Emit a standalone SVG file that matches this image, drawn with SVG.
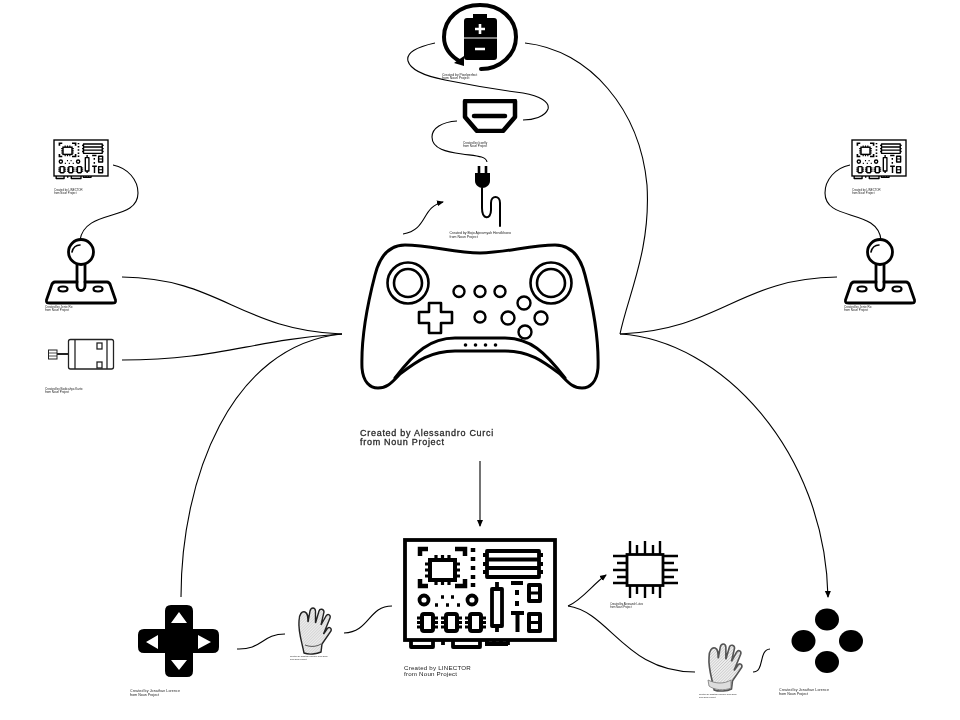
<svg xmlns="http://www.w3.org/2000/svg" xmlns:xlink="http://www.w3.org/1999/xlink" width="960" height="720" viewBox="0 0 960 720">
<style>
text{font-family:"Liberation Sans",Arial,sans-serif;fill:#222}
.cap{filter:url(#soft)}
.big{font-size:9px;letter-spacing:.72px;stroke:#333;stroke-width:.3px}
.c{fill:none;stroke:#000;stroke-width:1.1}
.ic{fill:none;stroke:#000;stroke-linecap:round;stroke-linejoin:round}
.k{fill:#000;stroke:none}
.w{fill:#fff;stroke:none}
.soft{filter:url(#soft)}
</style>
<defs>
<filter id="soft" x="-5%" y="-5%" width="110%" height="110%"><feGaussianBlur stdDeviation="0.35"/></filter>
<marker id="a" markerWidth="8" markerHeight="8" refX="6" refY="3.5" orient="auto" markerUnits="userSpaceOnUse"><path d="M0,0.5 L7,3.5 L0,6.500 Z" fill="#000"/></marker>
<pattern id="hatch" width="2" height="2" patternUnits="userSpaceOnUse" patternTransform="rotate(45)"><rect width="2" height="2" fill="#eee"/><line x1="0" y1="0" x2="0" y2="2" stroke="#999" stroke-width="0.6"/></pattern>
<g id="board-art" class="ic" stroke-width="3.8">
<rect x="0" y="0" width="150" height="100" stroke-linecap="square" stroke-linejoin="miter"/>
<path d="M6,100 V107 H28 V100 M48,100 V107 H75 V100 M38,100 V105 M82,100 V105 M89,100 V105 M96,100 V105 M103,100 V105 M80,104 H103" stroke-linecap="butt"/>
<path d="M15,16 V9 H23 M50,9 H60 V16 M15,39 V46 H23 M50,46 H60 V39" stroke-width="4.500" stroke-linecap="butt" stroke-linejoin="miter"/>
<rect x="25" y="20" width="25" height="20" stroke-width="4" stroke-linejoin="miter"/>
<path d="M20,24 H25 M20,30 H25 M20,36 H25 M50,24 H55 M50,30 H55 M50,36 H55 M31,15 V20 M37.500,15 V20 M44,15 V20 M31,40 V45 M37.500,40 V45 M44,40 V45" stroke-width="3.200" stroke-linecap="butt"/>
<path d="M68,8 V12 M68,17 V21 M68,26 V30 M68,35 V39 M68,43 V47" stroke-width="4.500" stroke-linecap="butt"/>
<rect x="82" y="11" width="52" height="26" stroke-linejoin="round"/>
<path d="M82,19.500 H134 M82,28 H134 M78,15 H82 M78,24 H82 M78,32 H82 M134,15 H138 M134,24 H138 M134,32 H138" stroke-linecap="butt"/>
<rect x="87" y="49" width="10" height="37" stroke-linejoin="round"/>
<path d="M92,42 V49 M92,86 V92" stroke-linecap="butt"/>
<path d="M106,43 H118 M112,50 V55 M112,61 V66 M106,73 H119 M112.500,73 V92" stroke-width="4" stroke-linecap="butt"/>
<rect x="124" y="45" width="11" height="16" stroke-width="4" stroke-linejoin="round"/>
<path d="M124,53 H135" stroke-width="3"/>
<rect x="124" y="74" width="11" height="17" stroke-width="4" stroke-linejoin="round"/>
<path d="M124,82.500 H135" stroke-width="3"/>
<circle cx="19" cy="60" r="4.500"/><circle cx="67" cy="60" r="4.500"/>
<path d="M36,57 H39 M46,57 H49 M30,65 H33 M41,65 H44 M52,65 H55" stroke-width="3.500" stroke-linecap="butt"/>
<rect x="17" y="74" width="11" height="17" rx="2" stroke-width="4"/><rect x="41" y="74" width="11" height="17" rx="2" stroke-width="4"/><rect x="65" y="74" width="11" height="17" rx="2" stroke-width="4"/>
<path d="M12,78 H17 M12,82.500 H17 M12,87 H17 M28,78 H33 M28,82.500 H33 M28,87 H33 M36,78 H41 M36,82.500 H41 M36,87 H41 M52,78 H57 M52,82.500 H57 M52,87 H57 M60,78 H65 M60,82.500 H65 M60,87 H65 M76,78 H81 M76,82.500 H81 M76,87 H81" stroke-width="3" stroke-linecap="butt"/>
</g>
<g id="joy-art">
<circle cx="81" cy="252" r="12.500" class="ic" stroke-width="2.800"/>
<path d="M72,252 C73,248 76,245 80,245" class="ic" stroke-width="1.600"/>
<path d="M77,265 V286 C77,292 85,292 85,286 V265" class="ic" stroke-width="2.800"/>
<path d="M77,282 H55 C52,282 52,284 51,287 L46.500,300 C46,303 47,303 50,303 H112 C115,303 116,303 115.500,300 L111,287 C110,284 110,282 107,282 H85" class="ic" stroke-width="2.800"/>
<ellipse cx="63" cy="289" rx="4.500" ry="2.500" class="ic" stroke-width="2.200"/>
<ellipse cx="98" cy="289" rx="4.500" ry="2.500" class="ic" stroke-width="2.200"/>
</g>
<path id="glove-art" d="M7,46 C5,35 1,25 2,14 C2,7 5,4 8,5 C11,6 11,10 11,15 L13,4 C14,0 18,0 18.500,4 L18.500,16 L22,4 C23,1 27,2 27,5 L24,18 L29,9 C31,6 34,8 33,11 L26.500,27 L30,22 C32,19 35,21 34,24 L25,37 L24,45 C20,47 12,48 7,46 Z"/>
</defs>

<g id="connectors">
<path class="c" d="M525,43 C590,50 640,110 647,185 C651,250 628,295 620,334"/>
<path class="c" d="M435,43 C416,47 406,53 408,61 C411,72 430,77 445,80 C470,85 500,90 523,93 C540,96 550,102 548,109 C545,117 533,120 523,120"/>
<path class="c" d="M457,121 C442,122 432,128 432,137 C432,149 447,152 462,154 C476,156 486,156 487,162"/>
<path class="c" d="M403,234 C428,230 421,207 443,202" marker-end="url(#a)"/>
<path class="c" d="M122,277 C220,278 240,330 342,334"/>
<path class="c" d="M122,360 C220,360 250,340 342,334"/>
<path class="c" d="M113,165 C128,168 138,180 138,193 C138,222 85,208 80,240"/>
<path class="c" d="M181,597 C181,480 230,345 342,334"/>
<path class="c" d="M620,334 C720,330 740,278 837,277"/>
<path class="c" d="M850,165 C835,168 825,180 825,193 C825,222 878,208 881,240"/>
<path class="c" d="M620,334 C720,340 825,450 828,597" marker-end="url(#a)"/>
<path class="c" d="M480,461 V526" marker-end="url(#a)"/>
<path class="c" d="M568,606 C582,600 592,585 606,575" marker-end="url(#a)"/>
<path class="c" d="M568,606 C610,612 625,672 695,672"/>
<path class="c" d="M753,672 C765,672 758,650 770,649"/>
<path class="c" d="M237,649 C262,650 262,634 285,634"/>
<path class="c" d="M344,633 C370,632 368,606 392,606"/>
</g>

<g id="node-controller">
<g class="soft">
<path class="ic" stroke-width="3" d="M480,253 C455,253 430,245 405,245 C390,245 380,255 375,275 C368,302 361,340 362,368 C363,382 370,388 378,388 C388,388 392,382 400,374 C416,362 430,351 455,351 H505 C530,351 544,362 560,374 C568,382 572,388 582,388 C590,388 597,382 598,368 C599,340 592,302 585,275 C580,255 570,245 555,245 C530,245 505,253 480,253 Z"/>
<path class="ic" stroke-width="3" d="M395,378 C415,352 430,338 455,338 H505 C530,338 545,352 565,378"/>
<circle class="ic" stroke-width="2.600" cx="408" cy="283" r="20.500"/><circle class="ic" stroke-width="2.600" cx="408" cy="283" r="14"/>
<circle class="ic" stroke-width="2.600" cx="551" cy="283" r="20.500"/><circle class="ic" stroke-width="2.600" cx="551" cy="283" r="14"/>
<circle class="ic" stroke-width="2.400" cx="459" cy="291.500" r="5.500"/><circle class="ic" stroke-width="2.400" cx="480" cy="291.500" r="5.500"/><circle class="ic" stroke-width="2.400" cx="500" cy="291.500" r="5.500"/>
<circle class="ic" stroke-width="2.400" cx="480" cy="317" r="5.500"/>
<circle class="ic" stroke-width="2.400" cx="524" cy="303" r="6.500"/><circle class="ic" stroke-width="2.400" cx="508" cy="318" r="6.500"/><circle class="ic" stroke-width="2.400" cx="541" cy="318" r="6.500"/><circle class="ic" stroke-width="2.400" cx="525" cy="332" r="6.500"/>
<path class="ic" stroke-width="2.600" d="M429,303 H441 V312 H452 V323 H441 V333 H429 V323 H419 V312 H429 Z"/>
<circle class="k" cx="465.500" cy="345" r="1.800"/><circle class="k" cx="475.500" cy="345" r="1.800"/><circle class="k" cx="485.500" cy="345" r="1.800"/><circle class="k" cx="495.500" cy="345" r="1.800"/>
</g>
<text class="cap big" x="360" y="436">Created by Alessandro Curci</text>
<text class="cap big" x="360" y="445">from Noun Project</text>
</g>

<g id="node-battery">
<g class="soft">
<path class="ic" stroke-width="4" d="M461,62 C450,56 444,48 444,37 C444,18 460,5 480,5 C500,5 516,18 516,37 C516,55 500,69 481,69"/>
<path class="k" d="M464,66 L454,63 L464,56 Z"/>
<path class="k" d="M473,18 V14 H487 V18 H494 C496,18 497,19 497,21 V57 C497,59 496,60 494,60 H467 C465,60 464,59 464,57 V21 C464,19 465,18 467,18 Z"/>
<path d="M475,29 H485 M480,24 V34 M475,49 H485" stroke="#fff" stroke-width="2.600" fill="none"/>
<path d="M464,38 H497" stroke="#fff" stroke-width="1" fill="none"/>
</g>
<text class="cap" x="442" y="76" font-size="3.400">Created by Pixelperfect</text>
<text class="cap" x="442" y="79" font-size="3.400">from Noun Project</text>
</g>

<g id="node-hdmi">
<g class="soft">
<path d="M465,101 H515 V117 L503,131 H477 L465,117 Z" class="ic" stroke-width="4.500"/>
<path d="M474,116 H505" class="ic" stroke-width="4.500"/>
</g>
<text class="cap" x="463" y="143.500" font-size="3">Created by Iconfly</text>
<text class="cap" x="463" y="146.500" font-size="3">from Noun Project</text>
</g>

<g id="node-plug">
<g class="soft">
<path d="M479,166 V174 M486,166 V174" stroke="#000" stroke-width="2.600" fill="none"/>
<path class="k" d="M475,173 H490 V181 C490,185 486,188 482.500,188 C479,188 475,185 475,181 Z"/>
<path class="ic" stroke-width="2" d="M482,188 V208 C482,220 491,220 491,210 V203 C491,195 500,195 500,203 V226" stroke-linecap="butt"/>
</g>
<text class="cap" x="449.500" y="234" font-size="3.500">Created by Bojo Ajeramyah Hendkhoeo</text>
<text class="cap" x="449.500" y="238" font-size="3.500">from Noun Project</text>
</g>

<g id="node-board-left">
<g class="soft"><use href="#board-art" transform="translate(54,140) scale(0.36)"/></g>
<text class="cap" x="54" y="190.500" font-size="2.800">Created by LINECTOR</text>
<text class="cap" x="54" y="193.500" font-size="2.800">from Noun Project</text>
</g>

<g id="node-joystick-left">
<g class="soft"><use href="#joy-art"/></g>
<text class="cap" x="45" y="307.500" font-size="3">Created by Jenie Ro</text>
<text class="cap" x="45" y="310.500" font-size="3">from Noun Project</text>
</g>

<g id="node-motor">
<g class="soft" fill="none" stroke="#222">
<rect x="68.500" y="339.500" width="45" height="29.500" rx="2" stroke-width="1.300"/>
<path d="M75,339.500 V369 M107,339.500 V369" stroke-width="1.300"/>
<rect x="97" y="343" width="5" height="6" stroke-width="1.300"/><rect x="97" y="362" width="5" height="6" stroke-width="1.300"/>
<path d="M57,354 H68" stroke-width="2"/>
<rect x="48.500" y="350" width="8.500" height="9" stroke-width="1"/>
<path d="M48.500,353 H57 M48.500,356 H57" stroke-width="0.800"/>
</g>
<text class="cap" x="45" y="389.500" font-size="3">Created by Bodicahya Karto</text>
<text class="cap" x="45" y="393" font-size="3">from Noun Project</text>
</g>

<g id="node-board-right">
<g class="soft"><use href="#board-art" transform="translate(852,140) scale(0.36)"/></g>
<text class="cap" x="852" y="190.500" font-size="2.800">Created by LINECTOR</text>
<text class="cap" x="852" y="193.500" font-size="2.800">from Noun Project</text>
</g>

<g id="node-joystick-right">
<g class="soft"><use href="#joy-art" transform="translate(799,0)"/></g>
<text class="cap" x="844" y="307.500" font-size="3">Created by Jenie Ro</text>
<text class="cap" x="844" y="310.500" font-size="3">from Noun Project</text>
</g>

<g id="node-dpad">
<g class="soft">
<path class="k" d="M171,605 H187 Q193,605 193,611 V629 H213 Q219,629 219,635 V647 Q219,653 213,653 H193 V671 Q193,677 187,677 H171 Q165,677 165,671 V653 H144 Q138,653 138,647 V635 Q138,629 144,629 H165 V611 Q165,605 171,605 Z"/>
<path class="w" d="M179,612 L187,623 H171 Z M179,670 L171,660 H187 Z M146,642 L158,635 V649 Z M211,642 L198,635 V649 Z"/>
</g>
<text class="cap" x="130" y="691.500" font-size="3.600" letter-spacing="0.1">Created by Jonathan Lorence</text>
<text class="cap" x="130" y="695.500" font-size="3.600">from Noun Project</text>
</g>

<g id="node-glove-left">
<g class="soft">
<use href="#glove-art" transform="translate(297,607)" fill="url(#hatch)" stroke="#222" stroke-width="1.400"/>
<path d="M305,645 C310,647 316,647 321,644" fill="none" stroke="#333" stroke-width="0.800"/>
</g>
<text class="cap" x="290" y="657" font-size="2.100">Created by Jonathan Lorence from Noun</text>
<text class="cap" x="290" y="659.500" font-size="2.100">from Noun Project</text>
</g>

<g id="node-board-main">
<g class="soft"><use href="#board-art" transform="translate(405,540)"/></g>
<text class="cap" x="404" y="669.500" font-size="6.200" letter-spacing="0.2">Created by LINECTOR</text>
<text class="cap" x="404" y="676" font-size="6.200" letter-spacing="0.2">from Noun Project</text>
</g>

<g id="node-chip">
<g class="soft">
<rect x="627" y="554.500" width="36" height="31" fill="none" stroke="#000" stroke-width="2.800"/>
<path fill="none" stroke="#000" stroke-width="2.400" d="M630,541 V554 M637,545 V554 M645,541 V554 M653,545 V554 M660,541 V554 M630,598 V586 M637,594 V586 M645,598 V586 M653,594 V586 M660,598 V586 M613,556 H627 M617,563 H627 M613,570 H627 M617,577 H627 M613,583 H627 M678,556 H663 M674,563 H663 M678,570 H663 M674,577 H663 M678,583 H663"/>
</g>
<text class="cap" x="610" y="605" font-size="2.700">Created by Alexsandr Lutov</text>
<text class="cap" x="610" y="607.800" font-size="2.700">from Noun Project</text>
</g>

<g id="node-glove-right">
<g class="soft">
<use href="#glove-art" transform="translate(707,643) scale(1.020)" fill="url(#hatch)" stroke="#555" stroke-width="1.600"/>
<path d="M708,680 C716,684 724,684 731,680 L731,688 C724,691 714,690 709,686 Z" fill="#ddd" stroke="#777" stroke-width="0.800"/>
</g>
<text class="cap" x="699" y="695" font-size="2.100">Created by Jonathan Lorence from Noun</text>
<text class="cap" x="699" y="697.500" font-size="2.100">from Noun Project</text>
</g>

<g id="node-buttons">
<g class="soft">
<ellipse class="k" cx="827" cy="619.500" rx="12" ry="11"/>
<ellipse class="k" cx="803.500" cy="641" rx="12" ry="11"/>
<ellipse class="k" cx="851" cy="641" rx="12" ry="11"/>
<ellipse class="k" cx="827" cy="662" rx="12" ry="11"/>
</g>
<text class="cap" x="779" y="690.500" font-size="3.600" letter-spacing="0.1">Created by Jonathan Lorence</text>
<text class="cap" x="779" y="694.500" font-size="3.600">from Noun Project</text>
</g>
</svg>
